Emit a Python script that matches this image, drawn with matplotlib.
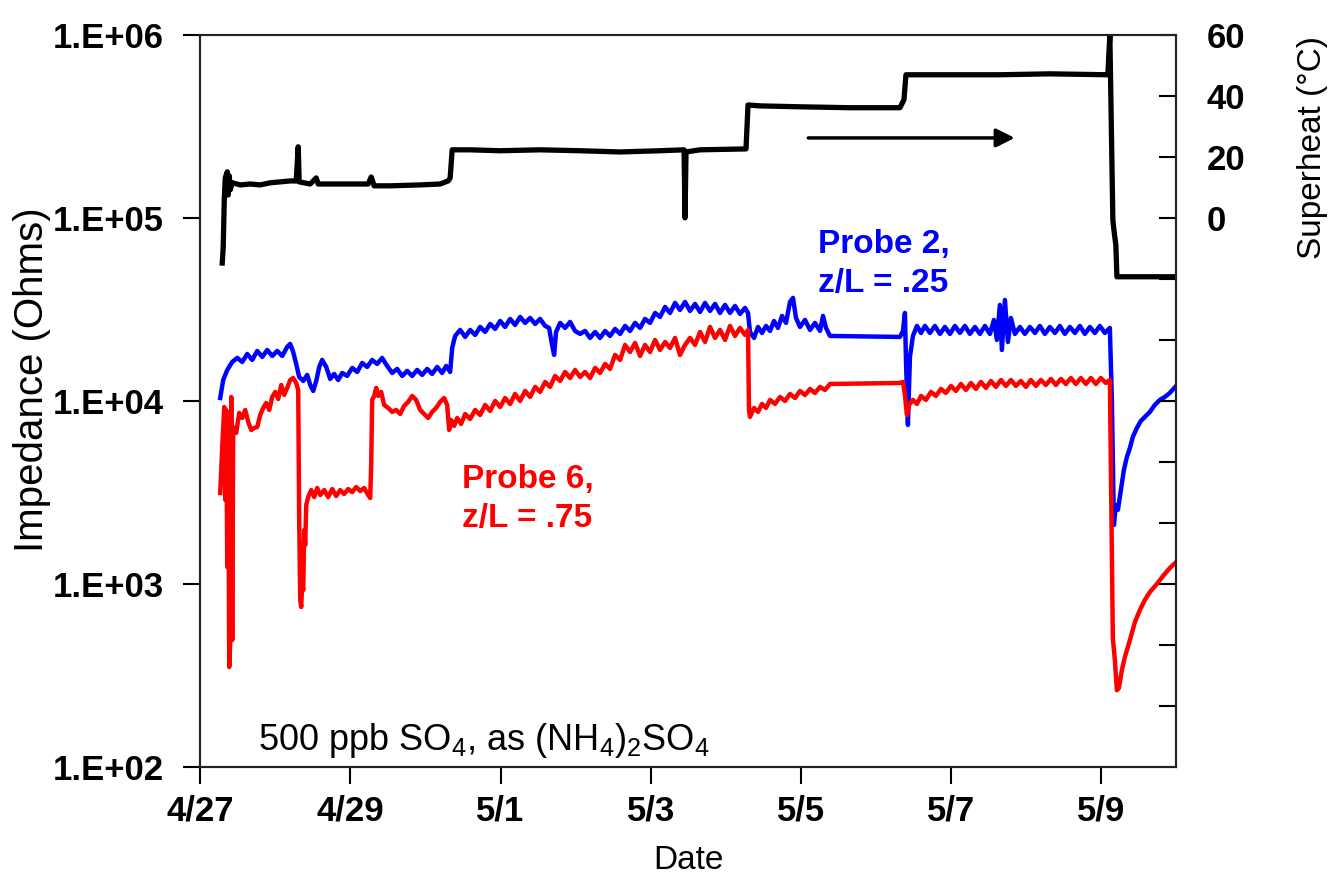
import matplotlib
matplotlib.use("Agg")
import matplotlib.pyplot as plt
from matplotlib.ticker import FixedLocator, NullLocator

plt.rcParams['font.family'] = ['Liberation Sans', 'DejaVu Sans']
plt.rcParams['mathtext.fontset'] = 'custom'
plt.rcParams['mathtext.rm'] = 'Liberation Sans'
plt.rcParams['mathtext.default'] = 'regular'

# ---- time axis: days since 4/27 00:00 ----
date_ticks = [0, 2, 4, 6, 8, 10, 12]
date_labels = ["4/27", "4/29", "5/1", "5/3", "5/5", "5/7", "5/9"]

imp_ticks = [1e2, 1e3, 1e4, 1e5, 1e6]
imp_labels = ["1.E+02", "1.E+03", "1.E+04", "1.E+05", "1.E+06"]

heat_ticks = [-160, -140, -120, -100, -80, -60, -40, -20, 0, 20, 40, 60]
heat_labels = ["", "", "", "", "", "", "", "", "0", "20", "40", "60"]

# ---- Probe 2 (z/L = .25) impedance, Ohms ----
days_p2 = [0.266, 0.306, 0.360, 0.426, 0.493, 0.559, 0.626, 0.692, 0.759, 0.826,
           0.892, 0.959, 1.025, 1.092, 1.158, 1.198, 1.238, 1.278, 1.318, 1.372,
           1.425, 1.465, 1.505, 1.545, 1.585, 1.624, 1.678, 1.731, 1.784, 1.838,
           1.891, 1.957, 2.024, 2.091, 2.157, 2.224, 2.290, 2.357, 2.423, 2.490,
           2.557, 2.623, 2.690, 2.756, 2.823, 2.889, 2.956, 3.023, 3.089, 3.156,
           3.222, 3.276, 3.329, 3.356, 3.395, 3.462, 3.529, 3.595, 3.662, 3.728,
           3.795, 3.862, 3.928, 3.995, 4.061, 4.128, 4.194, 4.261, 4.328, 4.394,
           4.461, 4.527, 4.594, 4.647, 4.687, 4.714, 4.740, 4.794, 4.860, 4.927,
           4.993, 5.060, 5.126, 5.193, 5.260, 5.326, 5.393, 5.459, 5.526, 5.593,
           5.659, 5.726, 5.792, 5.859, 5.925, 5.992, 6.059, 6.125, 6.192, 6.258,
           6.325, 6.391, 6.458, 6.525, 6.591, 6.658, 6.724, 6.791, 6.858, 6.924,
           6.991, 7.057, 7.124, 7.190, 7.257, 7.297, 7.323, 7.377, 7.430, 7.483,
           7.537, 7.590, 7.643, 7.696, 7.750, 7.803, 7.856, 7.896, 7.936, 7.989,
           8.056, 8.123, 8.189, 8.256, 8.296, 8.336, 8.389, 9.321, 9.361, 9.387,
           9.401, 9.427, 9.454, 9.494, 9.547, 9.601, 9.654, 9.720, 9.787, 9.854,
           9.920, 9.987, 10.053, 10.120, 10.186, 10.253, 10.320, 10.386, 10.453, 10.519,
           10.573, 10.612, 10.652, 10.679, 10.719, 10.759, 10.799, 10.852, 10.919, 10.985,
           11.052, 11.119, 11.185, 11.252, 11.318, 11.385, 11.451, 11.518, 11.585, 11.651,
           11.718, 11.784, 11.851, 11.917, 11.984, 12.050, 12.117, 12.144, 12.171, 12.197,
           12.224, 12.264, 12.304, 12.344, 12.384, 12.423, 12.477, 12.530, 12.597, 12.650,
           12.716, 12.783, 12.850, 12.916, 13.000]
z_p2 = [10380, 13020, 14770, 16330, 17180, 16330, 18060, 16750, 18750, 17390,
        18990, 17610, 18750, 17610, 19730, 20480, 18520, 15930, 13520, 12860,
        13870, 12230, 11340, 12860, 15340, 16750, 15340, 13190, 14050, 13020,
        14220, 13700, 15150, 14400, 16130, 15340, 16750, 15930, 17180, 15530,
        14220, 14960, 13700, 14590, 13700, 14770, 13870, 14960, 14050, 15340,
        14220, 15530, 14400, 19480, 22650, 24430, 22370, 24430, 22940, 25370,
        23820, 26340, 24740, 27350, 25370, 28060, 26010, 28770, 26680, 28410,
        26340, 28060, 25690, 25050, 20230, 17840, 23820, 26680, 25050, 27020,
        24120, 23230, 24120, 22090, 23820, 22090, 24120, 22650, 24740, 23230,
        25690, 24120, 26680, 25050, 28060, 26680, 30250, 28770, 32630, 30250,
        34310, 31420, 34740, 31020, 33880, 30640, 34310, 31020, 33880, 30250,
        33460, 30250, 33030, 29880, 32220, 30250, 23820, 22090, 25370, 23520,
        25690, 24120, 27350, 25050, 29130, 26680, 34740, 36540, 28410, 25370,
        27700, 24430, 26680, 24120, 29130, 25050, 22650, 22370, 24120, 30250,
        16750, 7390, 17390, 22650, 25690, 23520, 25690, 23520, 25690, 23230,
        25370, 23230, 25690, 23520, 25690, 23230, 25370, 23230, 25690, 23230,
        27700, 21540, 33460, 18990, 35630, 21000, 28410, 23230, 25370, 23230,
        25370, 23520, 25690, 23230, 25370, 23520, 25690, 23230, 25370, 23520,
        25690, 23230, 25370, 23520, 25690, 23520, 25050, 10130, 2100, 2700,
        2540, 3260, 4200, 4940, 5530, 6360, 7120, 7780, 8280, 8710,
        9510, 10130, 10520, 11060, 12080]

# ---- Probe 6 (z/L = .75) impedance, Ohms ----
days_p6 = [0.266, 0.293, 0.320, 0.333, 0.346, 0.360, 0.373, 0.386, 0.400, 0.413,
           0.426, 0.439, 0.479, 0.519, 0.559, 0.599, 0.639, 0.679, 0.719, 0.759,
           0.799, 0.839, 0.879, 0.919, 0.959, 0.999, 1.039, 1.079, 1.118, 1.158,
           1.198, 1.238, 1.278, 1.305, 1.318, 1.332, 1.345, 1.358, 1.372, 1.385,
           1.398, 1.412, 1.438, 1.478, 1.518, 1.558, 1.598, 1.651, 1.704, 1.758,
           1.811, 1.864, 1.917, 1.971, 2.024, 2.077, 2.130, 2.184, 2.237, 2.264,
           2.277, 2.290, 2.317, 2.344, 2.370, 2.410, 2.450, 2.503, 2.557, 2.610,
           2.663, 2.716, 2.770, 2.823, 2.876, 2.929, 2.983, 3.036, 3.089, 3.142,
           3.196, 3.249, 3.289, 3.316, 3.342, 3.382, 3.422, 3.475, 3.529, 3.595,
           3.662, 3.728, 3.795, 3.862, 3.928, 3.995, 4.061, 4.128, 4.194, 4.261,
           4.328, 4.394, 4.461, 4.527, 4.594, 4.660, 4.727, 4.794, 4.860, 4.927,
           4.993, 5.060, 5.126, 5.193, 5.260, 5.326, 5.393, 5.459, 5.526, 5.593,
           5.659, 5.726, 5.792, 5.859, 5.925, 5.992, 6.059, 6.125, 6.192, 6.258,
           6.325, 6.391, 6.458, 6.525, 6.591, 6.658, 6.724, 6.791, 6.858, 6.924,
           6.991, 7.057, 7.124, 7.190, 7.257, 7.297, 7.310, 7.323, 7.377, 7.430,
           7.483, 7.537, 7.590, 7.657, 7.723, 7.790, 7.856, 7.923, 7.989, 8.056,
           8.123, 8.189, 8.256, 8.322, 8.389, 9.321, 9.361, 9.387, 9.414, 9.441,
           9.494, 9.547, 9.601, 9.667, 9.734, 9.800, 9.867, 9.933, 10.000, 10.066,
           10.133, 10.200, 10.266, 10.333, 10.399, 10.466, 10.533, 10.599, 10.666, 10.732,
           10.799, 10.865, 10.932, 10.999, 11.065, 11.132, 11.198, 11.265, 11.332, 11.398,
           11.465, 11.531, 11.598, 11.664, 11.731, 11.798, 11.864, 11.931, 11.997, 12.064,
           12.117, 12.157, 12.184, 12.211, 12.237, 12.277, 12.317, 12.384, 12.451, 12.517,
           12.583, 12.650, 12.743, 12.836, 12.916, 13.000]
z_p6 = [3142, 5610, 9270, 2880, 8930, 1240, 7870, 352, 494, 10520,
        494, 7210, 6690, 8600, 8070, 8930, 7680, 6940, 7120, 7210,
        8380, 9160, 9750, 8930, 10520, 11200, 10250, 12230, 10790, 11780,
        13020, 13350, 12540, 11480, 2237, 818, 749, 1012, 927, 1972,
        1633, 2700, 2987, 3260, 2987, 3346, 3064, 3260, 2987, 3303,
        3025, 3260, 3102, 3303, 3178, 3388, 3222, 3346, 3064, 2950,
        4470, 10130, 10650, 11780, 10650, 11200, 9510, 9160, 8710, 8930,
        8490, 9390, 9880, 10650, 10130, 8930, 8490, 8070, 8710, 9160,
        9880, 10380, 9510, 6940, 7870, 7300, 8070, 7490, 8490, 7970,
        8930, 8380, 9510, 8820, 10000, 9270, 10380, 9630, 10920, 10000,
        11340, 10520, 11930, 11200, 12700, 11930, 13700, 12860, 14400, 13350,
        14770, 13520, 14400, 13350, 15150, 14220, 15930, 14960, 17840, 16750,
        20230, 18520, 20740, 17610, 20230, 18520, 21540, 18990, 21000, 19480,
        22090, 17840, 20230, 22090, 20230, 23820, 21000, 25370, 22090, 24430,
        21540, 25690, 22650, 25050, 22940, 24430, 8930, 8180, 9160, 8710,
        9630, 9160, 10130, 9630, 10520, 10000, 10920, 10380, 11340, 10770,
        11630, 11060, 11930, 11480, 12380, 12540, 12700, 10770, 8380, 9510,
        10130, 9630, 10650, 10130, 11200, 10650, 11630, 11060, 12080, 11340,
        12380, 11480, 12540, 11630, 12700, 11780, 12860, 11930, 13020, 12080,
        13020, 12080, 12860, 11930, 13020, 12080, 13020, 12230, 13190, 12230,
        13190, 12380, 13350, 12380, 13350, 12380, 13350, 12380, 13350, 12540,
        13020, 507, 384, 263, 270, 339, 399, 494, 620, 721,
        818, 904, 1000, 1120, 1223, 1320]

# ---- Superheat, deg C ----
days_sh = [0.293, 0.306, 0.320, 0.333, 0.360, 0.373, 0.386, 0.400, 0.426, 0.533,
           0.666, 0.799, 0.932, 1.065, 1.198, 1.278, 1.305, 1.318, 1.465, 1.545,
           1.571, 1.864, 2.237, 2.277, 2.317, 2.530, 2.929, 3.196, 3.302, 3.329,
           3.356, 3.595, 3.995, 4.527, 5.060, 5.593, 6.125, 6.445, 6.458, 6.471,
           6.658, 7.270, 7.297, 7.457, 7.989, 8.655, 9.321, 9.374, 9.401, 9.987,
           10.652, 11.318, 12.090, 12.117, 12.144, 12.157, 12.171, 12.197, 12.211, 13.000]
t_sh = [-14.8, -9.5, 5.9, 13.1, 15.1, 7.5, 13.8, 9.2, 11.5, 10.8,
        11.1, 10.8, 11.5, 11.8, 12.1, 12.1, 23.3, 11.8, 11.1, 13.1,
        11.1, 11.1, 11.1, 13.4, 10.5, 10.5, 10.8, 11.1, 12.1, 13.1,
        22.3, 22.3, 22.0, 22.3, 22.0, 21.6, 22.0, 22.3, 0.0, 21.6,
        22.3, 22.6, 37.0, 36.7, 36.4, 36.1, 36.1, 38.7, 46.9, 46.9,
        46.9, 47.2, 46.9, 60.0, 19.0, -0.7, -3.9, -8.9, -19.3, -19.3]

fig = plt.figure(figsize=(13.35, 8.92), dpi=100)
ax = fig.add_axes([0.15, 0.140, 0.731, 0.821])
ax2 = ax.twinx()

ax.plot(days_p2, z_p2, color='#0000ff', lw=3.2)
ax.plot(days_p6, z_p6, color='#ff0000', lw=3.2)
ax2.plot(days_sh, t_sh, color='black', lw=3.8)

ax.set_yscale('log')
ax.set_ylim(1e2, 1e6)
ax.set_xlim(0, 13)
ax.yaxis.set_major_locator(FixedLocator(imp_ticks))
ax.yaxis.set_minor_locator(NullLocator())
ax.set_yticklabels(imp_labels)
ax.set_xticks(date_ticks)
ax.set_xticklabels(date_labels)

ax2.set_ylim(-180, 60)
ax2.set_yticks(heat_ticks)
ax2.set_yticklabels(heat_labels)

for a in (ax, ax2):
    for s in a.spines.values():
        s.set_linewidth(1.5)
        s.set_color('#222222')
ax.spines['top'].set_color('#888888')

ax.tick_params(axis='y', direction='out', length=12, width=1.5, pad=14,
               labelsize=25)
ax.tick_params(axis='x', direction='out', length=12, width=1.5, pad=8,
               labelsize=25)
ax2.tick_params(axis='y', direction='in', length=12, width=1.5, pad=22,
                labelsize=25)
for lab in ax.get_xticklabels() + ax.get_yticklabels() + ax2.get_yticklabels():
    lab.set_fontweight('bold')

ax.set_xlabel('Date', fontsize=24, labelpad=12)
fig.text(0.024, 0.574, 'Impedance (Ohms)', rotation=90, ha='center',
         va='center', fontsize=29)
fig.text(0.983, 0.835, 'Superheat (\u00b0C)', rotation=90, ha='center',
         va='center', fontsize=24)

ax.text(0.633, 0.687, 'Probe 2,\nz/L = .25', transform=ax.transAxes,
        color='#0000ff', fontsize=24, fontweight='bold', ha='left',
        va='center', linespacing=1.35)
ax.text(0.268, 0.366, 'Probe 6,\nz/L = .75', transform=ax.transAxes,
        color='#ff0000', fontsize=24, fontweight='bold', ha='left',
        va='center', linespacing=1.35)
ax.text(0.059, 0.037, r'500 ppb SO$_4$, as (NH$_4$)$_2$SO$_4$',
        transform=ax.transAxes, color='black', fontsize=26, ha='left',
        va='center')

ax2.annotate('', xy=(10.85, 26.2), xytext=(8.1, 26.2),
             arrowprops=dict(arrowstyle='-|>', lw=2.5, color='black',
                             mutation_scale=28, shrinkA=0, shrinkB=0))

fig.savefig('out.png', dpi=100)
